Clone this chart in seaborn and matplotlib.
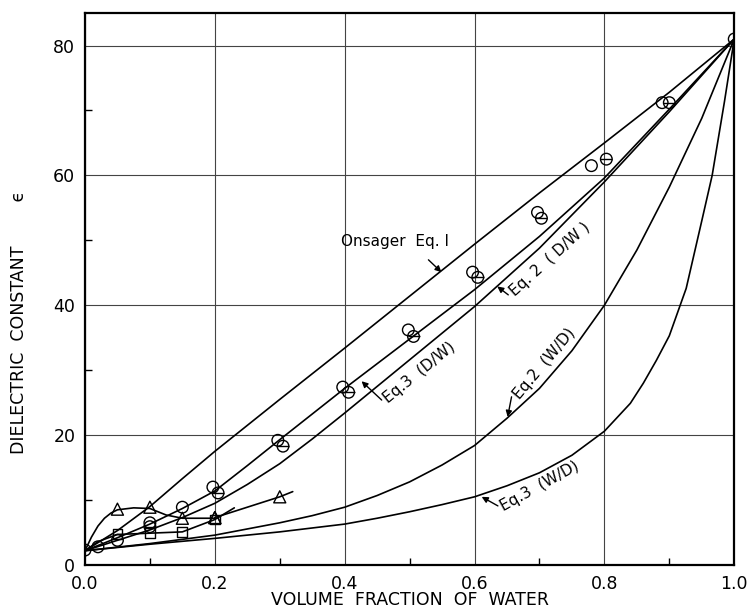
import numpy as np
import pandas as pd
import matplotlib
matplotlib.use("Agg")
import matplotlib.pyplot as plt
import seaborn as sns

# Theory curves
onsager_x = [0.0, 0.05, 0.1, 0.15, 0.2, 0.3, 0.4, 0.5, 0.6, 0.7, 0.8, 0.9, 1.0]
onsager_y = [2.2, 5.3, 9.0, 13.3, 17.5, 25.5, 33.4, 41.4, 49.4, 57.3, 65.0, 72.8, 81.0]

eq3_dw_x = [0.0, 0.05, 0.1, 0.15, 0.2, 0.25, 0.3, 0.4, 0.5, 0.6, 0.7, 0.8, 0.9, 1.0]
eq3_dw_y = [2.2, 4.2, 6.3, 8.7, 11.4, 15.3, 19.3, 27.2, 34.8, 42.4, 50.6, 59.6, 70.2, 81.0]

eq2_dw_x = [0.0, 0.05, 0.1, 0.15, 0.2, 0.25, 0.3, 0.35, 0.4, 0.5, 0.6, 0.7, 0.8, 0.9, 1.0]
eq2_dw_y = [2.2, 3.8, 5.4, 7.3, 9.5, 12.4, 15.6, 19.4, 23.4, 31.6, 39.8, 48.8, 59.0, 69.8, 81.0]

eq2_wd_x = [0.0, 0.1, 0.2, 0.3, 0.35, 0.4, 0.45, 0.5, 0.55, 0.6, 0.65, 0.7, 0.75, 0.8,
            0.85, 0.9, 0.95, 1.0]
eq2_wd_y = [2.2, 3.3, 4.6, 6.5, 7.6, 8.9, 10.7, 12.8, 15.4, 18.4, 22.6, 27.2, 33.0, 40.0,
            48.5, 58.2, 68.8, 81.0]

eq3_wd_x = [0.0, 0.1, 0.2, 0.3, 0.4, 0.45, 0.5, 0.55, 0.6, 0.65, 0.7, 0.75, 0.8, 0.84,
            0.86, 0.88, 0.9, 0.926, 0.95, 0.966, 0.985, 1.0]
eq3_wd_y = [2.2, 3.2, 4.1, 5.1, 6.3, 7.2, 8.2, 9.3, 10.5, 12.2, 14.2, 16.9, 20.6, 24.9,
            28.0, 31.5, 35.3, 42.6, 53.0, 60.0, 71.4, 81.0]

# Short experimental curves at low water content
tri1_x = [0.0, 0.01, 0.02, 0.03, 0.04, 0.05, 0.075, 0.1, 0.125, 0.15, 0.2]
tri1_y = [2.2, 4.3, 6.0, 7.2, 8.0, 8.5, 8.8, 8.7, 7.7, 7.2, 7.2]
tri2_x = [0.2, 0.25, 0.3, 0.32]
tri2_y = [7.3, 8.9, 10.5, 11.3]
sq_x = [0.0, 0.02, 0.05, 0.1, 0.15, 0.2, 0.23]
sq_y = [2.2, 3.6, 4.7, 4.9, 5.1, 7.0, 8.8]

# Measured points
open_x = [0.0, 0.02, 0.05, 0.1, 0.15, 0.197, 0.297, 0.397, 0.498, 0.597, 0.697, 0.78, 0.889, 1.0]
open_y = [2.3, 2.8, 3.8, 6.5, 8.9, 12.0, 19.2, 27.4, 36.2, 45.1, 54.3, 61.5, 71.2, 81.0]
theta_x = [0.1, 0.205, 0.305, 0.406, 0.506, 0.605, 0.703, 0.803, 0.9]
theta_y = [5.9, 11.1, 18.3, 26.6, 35.2, 44.3, 53.4, 62.5, 71.2]
tri1_pts_x = [0.05, 0.1, 0.15, 0.2]
tri1_pts_y = [8.6, 8.9, 7.2, 7.3]
tri2_pts_x = [0.2, 0.3]
tri2_pts_y = [7.3, 10.5]
sq_pts_x = [0.05, 0.1, 0.15, 0.2]
sq_pts_y = [4.8, 4.9, 5.1, 7.0]

sns.set_theme(style="ticks")
plt.rcParams.update({
    "font.family": ["DejaVu Sans"],
    "text.color": "black",
    "axes.labelcolor": "black",
    "axes.edgecolor": "black",
    "axes.linewidth": 1.5,
    "xtick.color": "black",
    "ytick.color": "black",
})

fig = plt.figure(figsize=(7.48, 6.16), dpi=100)
ax = fig.add_axes([0.1136, 0.0828, 0.868, 0.896])

curves = [(onsager_x, onsager_y), (eq3_dw_x, eq3_dw_y), (eq2_dw_x, eq2_dw_y),
          (eq2_wd_x, eq2_wd_y), (eq3_wd_x, eq3_wd_y),
          (tri1_x, tri1_y), (tri2_x, tri2_y), (sq_x, sq_y)]
for cx, cy in curves:
    sns.lineplot(x=cx, y=cy, ax=ax, color="black", lw=1.2, estimator=None, sort=False)

mk = dict(facecolor="none", edgecolor="black", linewidth=1.0, zorder=4)
sns.scatterplot(x=open_x, y=open_y, ax=ax, marker="o", s=70, **mk)
sns.scatterplot(x=theta_x, y=theta_y, ax=ax, marker="o", s=70, **mk)
ax.scatter(theta_x, theta_y, marker="_", s=70, color="black", linewidth=1.0, zorder=5)
sns.scatterplot(x=tri1_pts_x + tri2_pts_x, y=tri1_pts_y + tri2_pts_y, ax=ax,
                marker="^", s=75, **mk)
sns.scatterplot(x=sq_pts_x, y=sq_pts_y, ax=ax, marker="s", s=50, **mk)

ax.set_xlim(0, 1.0)
ax.set_ylim(0, 85)
ax.set_xticks([0, 0.2, 0.4, 0.6, 0.8, 1.0])
ax.set_xticklabels(["0.0", "0.2", "0.4", "0.6", "0.8", "1.0"])
ax.set_yticks([0, 20, 40, 60, 80])
ax.set_xticks(np.arange(0.1, 1.0, 0.2), minor=True)
ax.set_yticks([10, 30, 50, 70], minor=True)
ax.tick_params(which="major", direction="in", length=0, labelsize=12.5, pad=7)
ax.tick_params(which="minor", direction="in", length=5, width=1)
ax.grid(True, which="major", color="#444444", lw=0.8)
for s in ax.spines.values():
    s.set_visible(True)
    s.set_linewidth(1.6)

ax.set_xlabel("VOLUME  FRACTION  OF  WATER", fontsize=12.5)
ax.xaxis.set_label_coords(0.5, -0.048)
ax.xaxis.label.set_va("top")
ax.set_ylabel("DIELECTRIC  CONSTANT        \u03f5", fontsize=12.5)
ax.yaxis.set_label_coords(-0.088, 0.44)

# Curve labels with arrows
fs = 11
ax.text(0.477, 49.8, "Onsager  Eq. I", fontsize=fs, ha="center", va="center")
ax.text(0.462, 25.4, "Eq.3  (D/W)", fontsize=fs, ha="left", va="center",
        rotation=39, rotation_mode="anchor")
ax.text(0.658, 41.8, "Eq. 2  ( D/W )", fontsize=fs, ha="left", va="center",
        rotation=42, rotation_mode="anchor")
ax.text(0.665, 25.8, "Eq.2  (W/D)", fontsize=fs, ha="left", va="center",
        rotation=50, rotation_mode="anchor")
ax.text(0.642, 8.9, "Eq.3  (W/D)", fontsize=fs, ha="left", va="center",
        rotation=29, rotation_mode="anchor")

arrow = dict(arrowstyle="-|>", color="black", lw=1.0, mutation_scale=9,
             shrinkA=0, shrinkB=0)
ax.annotate("", xy=(0.549, 45.1), xytext=(0.529, 47.0), arrowprops=arrow)
ax.annotate("", xy=(0.426, 28.3), xytext=(0.457, 25.4), arrowprops=arrow)
ax.annotate("", xy=(0.635, 42.9), xytext=(0.652, 41.6), arrowprops=arrow)
ax.annotate("", xy=(0.651, 22.8), xytext=(0.657, 25.9), arrowprops=arrow)
ax.annotate("", xy=(0.611, 10.5), xytext=(0.636, 9.1), arrowprops=arrow)

fig.savefig("out.png", dpi=100)
